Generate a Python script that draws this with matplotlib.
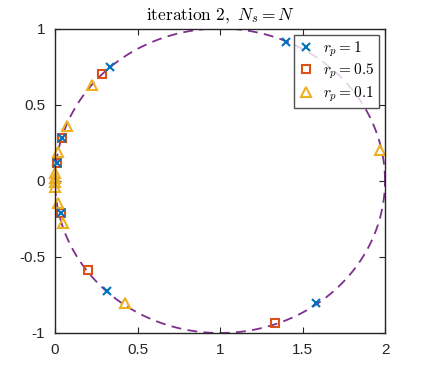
import numpy as np
import matplotlib
matplotlib.use("Agg")
import matplotlib.pyplot as plt

plt.rcParams['mathtext.fontset'] = 'cm'
plt.rcParams['font.family'] = ['Liberation Sans', 'DejaVu Sans']

# circle (center, radius)
circ_cx, circ_cy, circ_r = 1.0, 0.0, 1.0

# r_p = 1 (blue crosses)
x1 = [1.40, 0.333, 0.04, 0.014, 0.034, 0.315, 1.582]
y1 = [0.912, 0.747, 0.28, 0.115, -0.214, -0.725, -0.80]

# r_p = 0.5 (orange squares)
x2 = [0.287, 0.04, 0.014, 0.034, 0.20, 1.333]
y2 = [0.70, 0.28, 0.115, -0.214, -0.585, -0.936]

# r_p = 0.1 (yellow triangles)
x3 = [0.222, 0.071, 0.02, 0.003, 0.002, 0.002, 0.003, 0.016, 0.05, 0.424, 1.97]
y3 = [0.63, 0.36, 0.19, 0.05, 0.02, -0.01, -0.04, -0.144, -0.28, -0.80, 0.203]

labels = [r'$r_p = 1$', r'$r_p = 0.5$', r'$r_p = 0.1$']
xticks = [0, 0.5, 1, 1.5, 2]
yticks = [-1, -0.5, 0, 0.5, 1]
xticklabels = ['0', '0.5', '1', '1.5', '2']
yticklabels = ['-1', '-0.5', '0', '0.5', '1']

blue = '#0072BD'
orange = '#D95319'
yellow = '#EDB120'
purple = '#7E2F8E'

fig = plt.figure(figsize=(4.25, 3.75), dpi=100)
ax = fig.add_axes([55/425, 1-333/375, 330/425, (333-28.5)/375])

t = np.linspace(0, 2*np.pi, 400)
ax.plot(circ_cx + circ_r*np.cos(t), circ_cy + circ_r*np.sin(t), '--', color=purple,
        lw=1.3, dashes=(5.5, 3.5), zorder=1)

ax.plot(x1, y1, 'x', color=blue, ms=5.5, mew=1.5, ls='none', label=labels[0], zorder=3, clip_on=False)
ax.plot(x2, y2, 's', color=orange, mfc='none', ms=5.5, mew=1.5, ls='none', label=labels[1], zorder=2, clip_on=False)
ax.plot(x3, y3, '^', color=yellow, mfc='none', ms=7, mew=1.5, ls='none', label=labels[2], zorder=2, clip_on=False)

ax.set_xlim(0, 2)
ax.set_ylim(-1, 1)
ax.set_xticks(xticks)
ax.set_xticklabels(xticklabels)
ax.set_yticks(yticks)
ax.set_yticklabels(yticklabels)
ax.tick_params(direction='in', top=True, right=True, labelsize=11, length=4, width=0.8,
               colors='#262626', pad=7)
for s in ax.spines.values():
    s.set_linewidth(1.0)
    s.set_color('#262626')

ax.set_title(r'$\mathrm{iteration\ 2,}\ N_s = N$', fontsize=12.5, pad=6)

leg = ax.legend(loc='upper right', fontsize=11, frameon=True, fancybox=False,
                edgecolor='#262626', borderaxespad=0.4, handlelength=1.0,
                handletextpad=0.6, borderpad=0.3, labelspacing=0.2)
leg.get_frame().set_linewidth(1.0)
leg.set_zorder(5)

fig.savefig('out.png', dpi=100)
